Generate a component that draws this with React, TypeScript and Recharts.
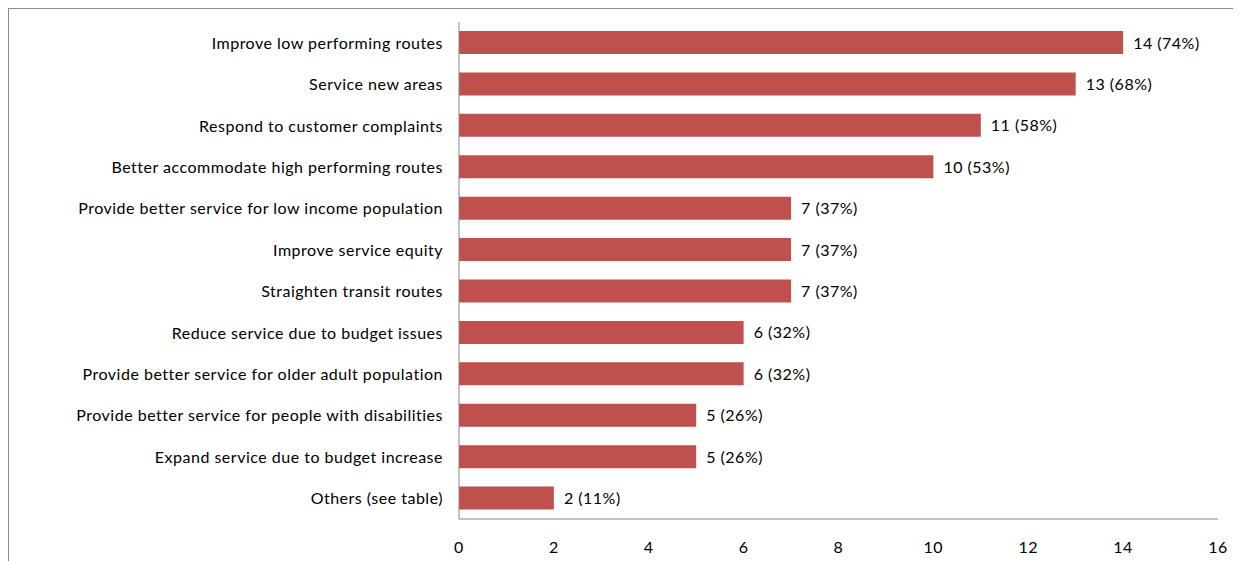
import React from 'react';
import { BarChart, Bar, XAxis, YAxis, LabelList } from 'recharts';

// Survey responses, top to bottom as shown
const categories = [
    'Improve low performing routes',
    'Service new areas',
    'Respond to customer complaints',
    'Better accommodate  high performing routes',
    'Provide better service for low income population',
    'Improve service equity',
    'Straighten transit routes',
    'Reduce service due to budget issues',
    'Provide better service for older adult population',
    'Provide better service for people with disabilities',
    'Expand service due to budget increase',
    'Others (see table)',
];
const counts = [14, 13, 11, 10, 7, 7, 7, 6, 6, 5, 5, 2];
const percents = [74, 68, 58, 53, 37, 37, 37, 32, 32, 26, 26, 11];
const xTicks = [0, 2, 4, 6, 8, 10, 12, 14, 16];

const FONT = 'Lato, "Open Sans", sans-serif';
const textStyle = { fontSize: 16, fontFamily: FONT, letterSpacing: 0.5 };

const data = categories.map((name, i) => ({ name, count: counts[i], pct: percents[i] }));

const CategoryTick = (props: any) => {
    const { x, y, payload } = props;
    return (
        <text x={x - 8} y={y} dy={6} textAnchor="end" style={textStyle} fill="#000">
            {payload.value}
        </text>
    );
};

const ValueTick = (props: any) => {
    const { x, y, payload } = props;
    return (
        <text x={x} y={y + 26} textAnchor="middle" style={textStyle} fill="#000">
            {payload.value}
        </text>
    );
};

const App: React.FC = () => {
    return (
        <div style={{ width: 1232, height: 552, borderLeft: '1px solid #8c8c8c', borderTop: '1px solid #8c8c8c' }}>
            <BarChart
                width={1232}
                height={552}
                data={data}
                layout="vertical"
                margin={{ top: 13, right: 23, left: 0, bottom: 0 }}
                barCategoryGap={9}
            >
                <XAxis
                    type="number"
                    domain={[0, 16]}
                    ticks={xTicks}
                    height={42}
                    tickLine={false}
                    stroke="#868686"
                    tick={<ValueTick />}
                />
                <YAxis
                    type="category"
                    dataKey="name"
                    width={450}
                    tickLine={false}
                    stroke="#868686"
                    interval={0}
                    tick={<CategoryTick />}
                />
                <Bar dataKey="count" fill="#C0504D" isAnimationActive={false}>
                    <LabelList
                        dataKey="pct"
                        content={(p: any) => (
                            <text
                                x={p.x + p.width + 10}
                                y={p.y + p.height / 2}
                                dy={6}
                                style={textStyle}
                                fill="#000"
                            >
                                {`${counts[p.index]} (${p.value}%)`}
                            </text>
                        )}
                    />
                </Bar>
            </BarChart>
        </div>
    );
};

export default App;
